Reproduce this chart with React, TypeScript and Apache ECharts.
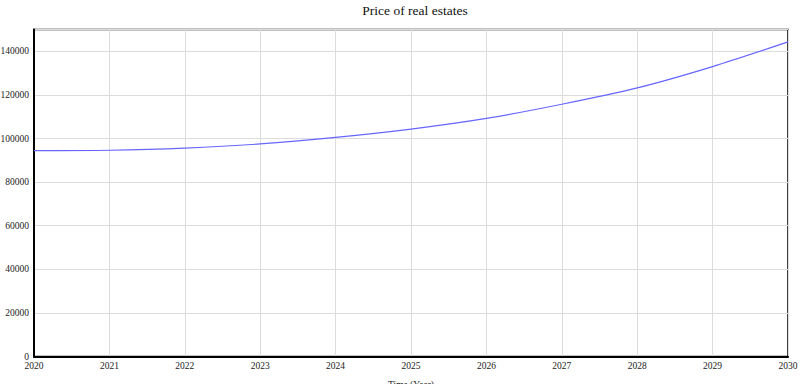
import React, { useEffect, useRef } from "react";
import * as echarts from "echarts";

const years = [2020, 2021, 2022, 2023, 2024, 2025, 2026, 2027, 2028, 2029, 2030];
const prices = [94400, 94600, 95600, 97500, 100500, 104300, 109200, 115700, 123200, 133000, 144300];
const titleText = "Price of real estates";
const xAxisName = "Time (Year)";

const FONT = "'Liberation Serif', 'Times New Roman', serif";

export default function App() {
  const ref = useRef<HTMLDivElement>(null);
  useEffect(() => {
    if (!ref.current) return;
    const chart = echarts.init(ref.current, undefined, { renderer: "svg" });
    chart.setOption({
      animation: false,
      backgroundColor: "#fff",
      title: {
        text: titleText,
        left: 410,
        textAlign: "center",
        top: -2,
        textStyle: { fontFamily: FONT, fontSize: 13.5, fontWeight: "normal", color: "#111" },
      },
      grid: {
        left: 34,
        right: 12,
        top: 29.5,
        bottom: 27.5,
        containLabel: false,
        outerBoundsMode: "none",
        show: true,
        borderColor: "#000",
        borderWidth: 1.5,
      },
      xAxis: {
        type: "value",
        min: 2020,
        max: 2030,
        interval: 1,
        name: xAxisName,
        nameLocation: "middle",
        nameGap: 23,
        nameMoveOverlap: false,
        nameTextStyle: { fontFamily: FONT, fontSize: 9.5, color: "#222" },
        axisLine: { show: true, lineStyle: { color: "#000", width: 2 } },
        axisTick: { show: false },
        axisLabel: {
          formatter: (v: number) => String(v),
          fontFamily: FONT,
          fontSize: 9.5,
          color: "#222",
          margin: 4,
        },
        splitLine: { show: true, lineStyle: { color: "#dcdcdc", width: 1 } },
      },
      yAxis: {
        type: "value",
        min: 0,
        max: 150000,
        interval: 20000,
        axisLine: { show: true, lineStyle: { color: "#000", width: 2 } },
        axisTick: { show: false },
        axisLabel: {
          formatter: (v: number) => (v > 140000 ? "" : String(v)),
          showMaxLabel: false,
          fontFamily: FONT,
          fontSize: 9.5,
          color: "#222",
          margin: 5,
        },
        splitLine: { show: true, lineStyle: { color: "#dcdcdc", width: 1 } },
      },
      series: [
        {
          type: "line",
          data: years.map((y, i) => [y, prices[i]]),
          smooth: 0.3,
          showSymbol: false,
          lineStyle: { color: "#6666ff", width: 1.2 },
        },
      ],
    });
    return () => chart.dispose();
  }, []);
  return (
    <div
      ref={ref}
      style={{ position: "fixed", left: 0, top: 0, width: 800, height: 384 }}
    />
  );
}
